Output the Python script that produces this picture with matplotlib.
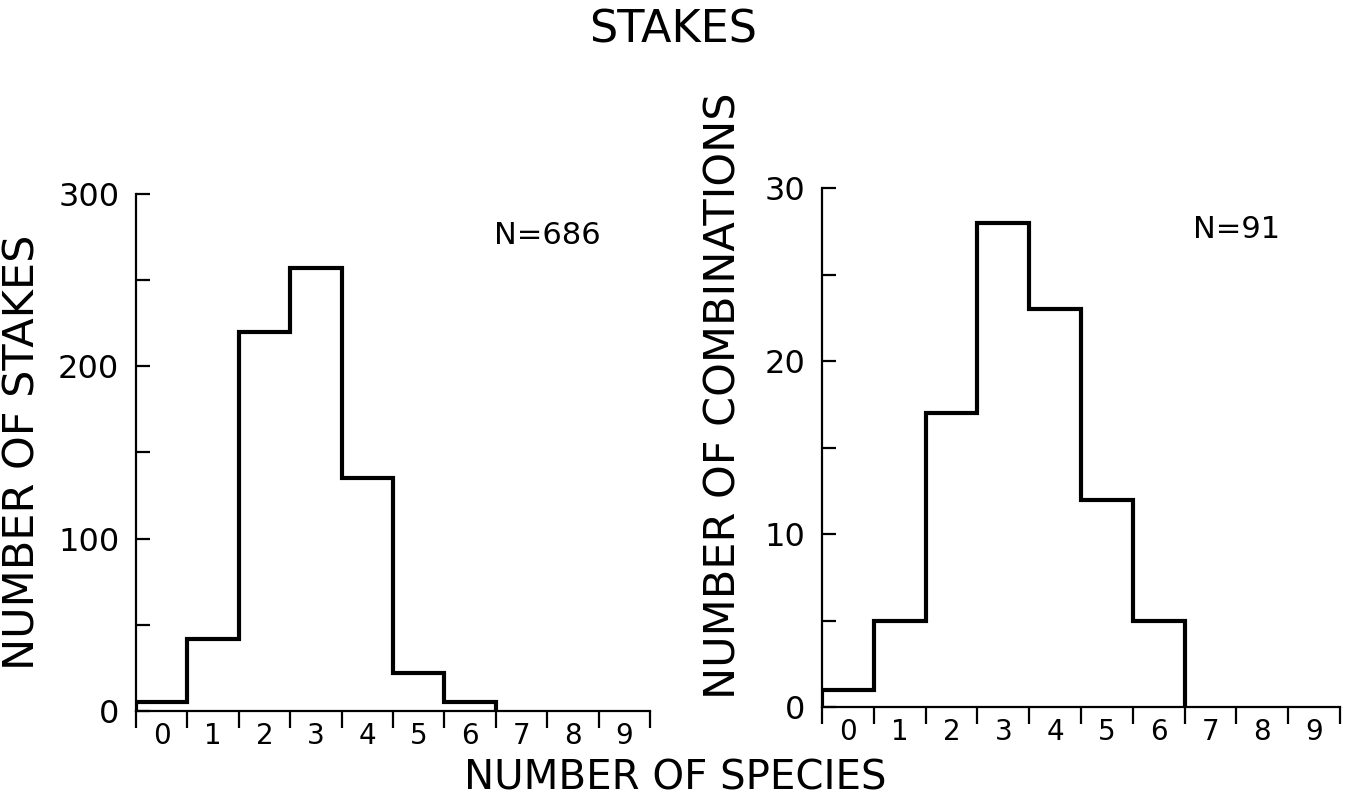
import matplotlib
matplotlib.use("Agg")
import matplotlib.pyplot as plt
import numpy as np

# Counts per number of species (0-6); 7-9 are empty
stakes_counts = [5, 42, 220, 257, 135, 22, 5]
combo_counts = [1, 5, 17, 28, 23, 12, 5]
species_labels = ['0', '1', '2', '3', '4', '5', '6', '7', '8', '9']

n_stakes = 686
n_combos = 91

plt.rcParams['font.family'] = 'DejaVu Sans'

fig = plt.figure(figsize=(13.54, 7.98), dpi=100)
ax1 = fig.add_axes([0.1004, 0.109, 0.3796, 0.648])
ax2 = fig.add_axes([0.6071, 0.114, 0.3826, 0.650])


def draw_panel(ax, counts, y_max, y_major, y_minor, y_label, n_text):
    edges = np.arange(len(counts) + 1) - 0.5
    ax.stairs(counts, edges, baseline=0, color='black', linewidth=3.0)

    ax.set_xlim(-0.5, len(species_labels) - 0.5)
    ax.set_ylim(0, y_max)

    for side in ['top', 'right']:
        ax.spines[side].set_visible(False)
    for side in ['left', 'bottom']:
        ax.spines[side].set_linewidth(1.6)

    # bin edges get the tick marks, labels sit in the middle of each bin
    ax.set_xticks(np.arange(len(species_labels) + 1) - 0.5)
    ax.set_xticklabels([])
    ax.set_xticks(np.arange(len(species_labels)), minor=True)
    ax.set_xticklabels(species_labels, minor=True)
    ax.tick_params(axis='x', which='major', direction='out', length=12,
                   width=1.6)
    ax.tick_params(axis='x', which='minor', length=0, pad=8, labelsize=20)

    ax.set_yticks(y_major)
    ax.set_yticks(y_minor, minor=True)
    ax.tick_params(axis='y', which='both', direction='in', length=10,
                   width=1.6, pad=12, labelsize=23)

    ax.set_ylabel(y_label, fontsize=31)
    ax.text(0.80, 0.92, n_text, transform=ax.transAxes, fontsize=22,
            ha='center', va='center')


draw_panel(ax1, stakes_counts, 300, [0, 100, 200, 300], [50, 150, 250],
           'NUMBER OF STAKES', f'N={n_stakes}')
draw_panel(ax2, combo_counts, 30, [0, 10, 20, 30], [5, 15, 25],
           'NUMBER OF COMBINATIONS', f'N={n_combos}')

ax1.yaxis.set_label_coords(-0.18, 0.5)
ax2.yaxis.set_label_coords(-0.15, 0.60)

fig.text(0.497, 0.962, 'STAKES', fontsize=32, ha='center', va='center')
fig.text(0.499, 0.0, 'NUMBER OF SPECIES', fontsize=29, ha='center',
         va='bottom')

plt.savefig('out.png', dpi=100)
